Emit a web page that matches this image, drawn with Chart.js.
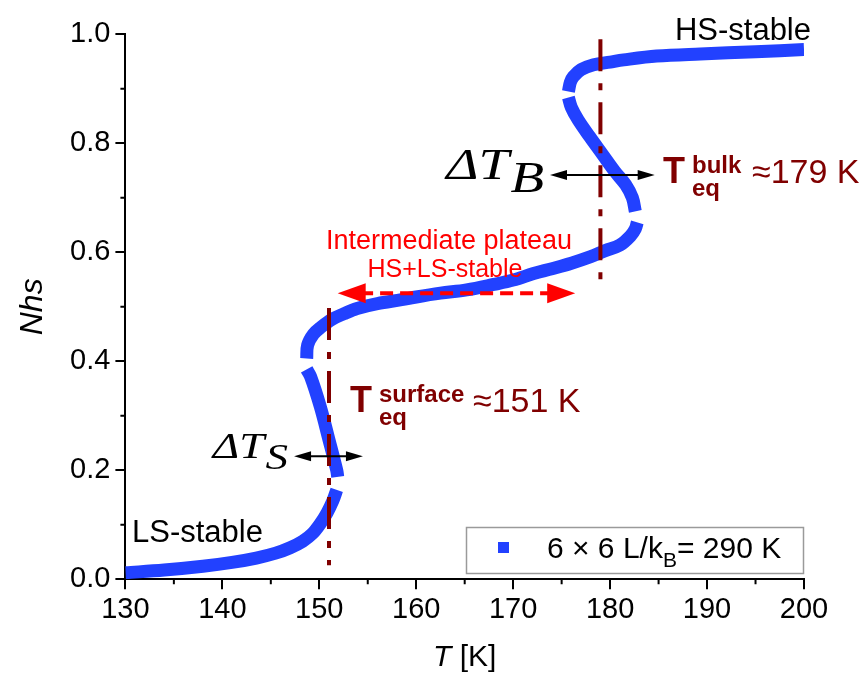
<!DOCTYPE html>
<html>
<head>
<meta charset="utf-8">
<script src="https://cdn.jsdelivr.net/npm/chart.js@4.4.1/dist/chart.umd.min.js"></script>
<style>
  html, body { margin: 0; padding: 0; background: #fff; }
  #wrap { width: 868px; height: 677px; }
</style>
</head>
<body>
<div id="wrap"><canvas id="chartNhs" width="868" height="677"></canvas></div>
<script>
// Nhs(T) for the 6x6 lattice, L/kB = 290 K.
// null breaks the S-branches where the sweep jumps between states.
const tempK = [
  130, 134, 138, 141, 143.5, 145.5, 147, 148.3, 149.3, 150.1, 150.8, 151.4, 151.8, null,
  151.9, 151.8, 151.0, 150.1, 149.1, 148.7, null,
  148.7, 148.8, 149.4, 150.2, 151.3, 152.5, 153.9, 156, 158.5, 160, 162.5, 165.2,
  168, 170, 172.1, 174, 176, 178, 179.5, 181, 182.1, 182.6, 182.8, null,
  182.6, 182.3, 181.6, 180.5, 179.2, 177.9, 176.7, 176.0, 175.7, null,
  175.7, 175.9, 176.2, 177, 178.3, 180, 181.4, 184.8, 189.3, 195, 200
];
const nhs = [
  0.012, 0.017, 0.024, 0.031, 0.039, 0.048, 0.058, 0.070, 0.084, 0.102, 0.122, 0.144, 0.164, null,
  0.188, 0.20, 0.256, 0.317, 0.372, 0.385, null,
  0.405, 0.43, 0.45, 0.463, 0.477, 0.487, 0.497, 0.506, 0.513, 0.518, 0.525, 0.531,
  0.541, 0.549, 0.561, 0.570, 0.580, 0.592, 0.603, 0.613, 0.630, 0.643, 0.655, null,
  0.675, 0.700, 0.724, 0.748, 0.780, 0.812, 0.843, 0.866, 0.884, null,
  0.895, 0.912, 0.922, 0.935, 0.944, 0.949, 0.953, 0.960, 0.964, 0.968, 0.972
];

// equilibrium temperatures and the extent of their marker lines
const tEqSurface = 151;
const tEqBulk = 179;
const surfaceLineNhs = [0.498, 0.026];
const bulkLineNhs = [0.991, 0.531];

// hysteresis widths and plateau span: [from T, to T, at Nhs]
const deltaTS = [147.4, 154.5, 0.226];
const deltaTB = [173.8, 184.6, 0.742];
const plateauSpan = [151.9, 176.4, 0.525];

const xMajor = [130, 140, 150, 160, 170, 180, 190, 200];
const yMajor = [0.0, 0.2, 0.4, 0.6, 0.8, 1.0];

const SANS = "'Liberation Sans', Arial, sans-serif";
const SERIF = "'Liberation Serif', 'Times New Roman', serif";
const BLUE = '#2241ff';
const DARK_RED = '#800000';

const isMajorX = v => xMajor.some(t => Math.abs(t - v) < 1e-6);
const isMajorY = v => yMajor.some(t => Math.abs(t - v) < 1e-6);

function text(ctx, s, x, y, font, color, align) {
  ctx.font = font;
  ctx.fillStyle = color;
  ctx.textAlign = align || 'left';
  ctx.textBaseline = 'alphabetic';
  ctx.fillText(s, x, y);
  return ctx.measureText(s).width;
}

function head(ctx, tipX, y, dir, len, half) {
  ctx.beginPath();
  ctx.moveTo(tipX, y);
  ctx.lineTo(tipX - dir * len, y - half);
  ctx.lineTo(tipX - dir * len, y + half);
  ctx.closePath();
  ctx.fill();
}

function doubleArrow(ctx, xs, span, ys, color, width, len, half, dash) {
  const x1 = xs.getPixelForValue(span[0]);
  const x2 = xs.getPixelForValue(span[1]);
  const yy = ys.getPixelForValue(span[2]);
  ctx.strokeStyle = color;
  ctx.fillStyle = color;
  ctx.lineWidth = width;
  ctx.setLineDash(dash || []);
  ctx.beginPath();
  ctx.moveTo(x1 + len * 0.8, yy);
  ctx.lineTo(x2 - len * 0.8, yy);
  ctx.stroke();
  ctx.setLineDash([]);
  head(ctx, x1, yy, -1, len, half);
  head(ctx, x2, yy, 1, len, half);
}

// italic serif "ΔT" with a subscript, right-aligned at x and stretched sideways
function deltaT(ctx, sub, right, y, size, stretch) {
  ctx.save();
  ctx.font = 'italic ' + size + 'px ' + SERIF;
  const wMain = ctx.measureText('\u0394T').width;
  const wSub = ctx.measureText(sub).width;
  ctx.translate(right - (wMain + wSub + 1) * stretch, y);
  ctx.scale(stretch, 1);
  ctx.fillStyle = '#000';
  ctx.textAlign = 'left';
  ctx.fillText('\u0394T', 0, 0);
  ctx.fillText(sub, wMain + 1, size * 0.3);
  ctx.restore();
}

function tEqLabel(ctx, sup, value, xT, xSup, xVal, y) {
  text(ctx, 'T', xT, y, 'bold 36px ' + SANS, DARK_RED);
  text(ctx, sup, xSup, y - 10, 'bold 24px ' + SANS, DARK_RED);
  text(ctx, 'eq', xSup, y + 13, 'bold 24px ' + SANS, DARK_RED);
  text(ctx, value, xVal, y, '34px ' + SANS, DARK_RED);
}

const annotate = {
  id: 'annotate',
  afterDatasetsDraw(chart) {
    const { ctx, scales: { x, y } } = chart;
    ctx.save();

    // minor ticks (majors come from the scales)
    ctx.strokeStyle = '#000';
    ctx.lineWidth = 2;
    ctx.beginPath();
    for (let v = 135; v < 200; v += 10) {
      const px = x.getPixelForValue(v);
      ctx.moveTo(px, y.bottom);
      ctx.lineTo(px, y.bottom + 5);
    }
    for (let v = 0.1; v < 1; v += 0.2) {
      const py = y.getPixelForValue(v);
      ctx.moveTo(x.left, py);
      ctx.lineTo(x.left - 5, py);
    }
    ctx.stroke();

    // arrows
    doubleArrow(ctx, x, plateauSpan, y, '#ff0000', 4, 28, 10, [13, 7]);
    doubleArrow(ctx, x, deltaTS, y, '#000', 2, 17, 5);
    doubleArrow(ctx, x, deltaTB, y, '#000', 2, 17, 5);

    // state labels
    text(ctx, 'HS-stable', 811, 40, '31px ' + SANS, '#000', 'right');
    text(ctx, 'LS-stable', 132, 542, '31px ' + SANS, '#000');
    text(ctx, 'Intermediate plateau', 449, 249, '27px ' + SANS, '#ff0000', 'center');
    text(ctx, 'HS+LS-stable', 445, 277, '25px ' + SANS, '#ff0000', 'center');

    tEqLabel(ctx, 'bulk', '\u2248' + tEqBulk + ' K', 663, 692, 752, 183);
    tEqLabel(ctx, 'surface', '\u2248' + tEqSurface + ' K', 350, 379, 473, 412);

    deltaT(ctx, 'S', 288, 458, 36, 1.25);
    deltaT(ctx, 'B', 544, 179, 44, 1.25);

    // axis titles
    ctx.save();
    ctx.translate(42, (y.top + y.bottom) / 2);
    ctx.rotate(-Math.PI / 2);
    text(ctx, 'Nhs', 0, 0, 'italic 32px ' + SANS, '#000', 'center');
    ctx.restore();

    ctx.font = 'italic 30px ' + SANS;
    const wT = ctx.measureText('T').width;
    ctx.font = '30px ' + SANS;
    const wK = ctx.measureText(' [K]').width;
    const cx = (x.left + x.right) / 2 - (wT + wK) / 2;
    text(ctx, 'T', cx, 666, 'italic 30px ' + SANS, '#000');
    text(ctx, ' [K]', cx + wT, 666, '30px ' + SANS, '#000');

    // legend box
    ctx.strokeStyle = '#9a9a9a';
    ctx.lineWidth = 1.5;
    ctx.strokeRect(466.5, 527.5, 337, 46);
    ctx.fillStyle = BLUE;
    ctx.fillRect(498, 542, 11, 11);
    let lx = 547;
    lx += text(ctx, '6 \u00d7 6 L/k', lx, 558, '30px ' + SANS, '#000');
    lx += text(ctx, 'B', lx, 567, '21px ' + SANS, '#000');
    text(ctx, '= 290 K', lx, 558, '30px ' + SANS, '#000');

    ctx.restore();
  }
};

const points = tempK.map((t, i) => ({ x: t, y: nhs[i] }));

new Chart(document.getElementById('chartNhs'), {
  type: 'line',
  data: {
    datasets: [
      {
        label: 'surface',
        data: surfaceLineNhs.map(v => ({ x: tEqSurface, y: v })),
        borderColor: DARK_RED,
        borderWidth: 4,
        borderDash: [32, 12, 7, 12],
        pointRadius: 0,
        order: 1
      },
      {
        label: 'bulk',
        data: bulkLineNhs.map(v => ({ x: tEqBulk, y: v })),
        borderColor: DARK_RED,
        borderWidth: 4,
        borderDash: [32, 12, 7, 12],
        pointRadius: 0,
        order: 1
      },
      {
        label: '6 \u00d7 6 L/kB= 290 K',
        data: points,
        borderColor: BLUE,
        backgroundColor: BLUE,
        borderWidth: 13,
        tension: 0.35,
        spanGaps: false,
        pointRadius: 0,
        pointStyle: 'rect',
        order: 2
      }
    ]
  },
  options: {
    responsive: false,
    animation: false,
    devicePixelRatio: 1,
    layout: { padding: { top: 34.3, right: 64, left: 0, bottom: 0 } },
    plugins: {
      legend: { display: false },
      tooltip: { enabled: false }
    },
    scales: {
      x: {
        type: 'linear',
        min: 130,
        max: 200,
        afterFit: s => { s.height = 97.7; },
        border: { display: true, color: '#000', width: 2 },
        grid: {
          drawOnChartArea: false,
          drawTicks: true,
          tickLength: 10,
          lineWidth: 2,
          tickColor: c => isMajorX(c.tick.value) ? '#000' : 'rgba(0,0,0,0)'
        },
        ticks: {
          stepSize: 10,
          autoSkip: false,
          maxRotation: 0,
          padding: 3,
          color: '#000',
          font: { family: SANS, size: 29 },
          callback: v => isMajorX(v) ? String(v) : ''
        }
      },
      y: {
        type: 'linear',
        min: 0,
        max: 1,
        afterFit: s => { s.width = 125.4; },
        border: { display: true, color: '#000', width: 2 },
        grid: {
          drawOnChartArea: false,
          drawTicks: true,
          tickLength: 10,
          lineWidth: 2,
          tickColor: c => isMajorY(c.tick.value) ? '#000' : 'rgba(0,0,0,0)'
        },
        ticks: {
          stepSize: 0.2,
          autoSkip: false,
          padding: 5,
          color: '#000',
          font: { family: SANS, size: 29 },
          callback: v => isMajorY(v) ? v.toFixed(1) : ''
        }
      }
    }
  },
  plugins: [annotate]
});
</script>
</body>
</html>
